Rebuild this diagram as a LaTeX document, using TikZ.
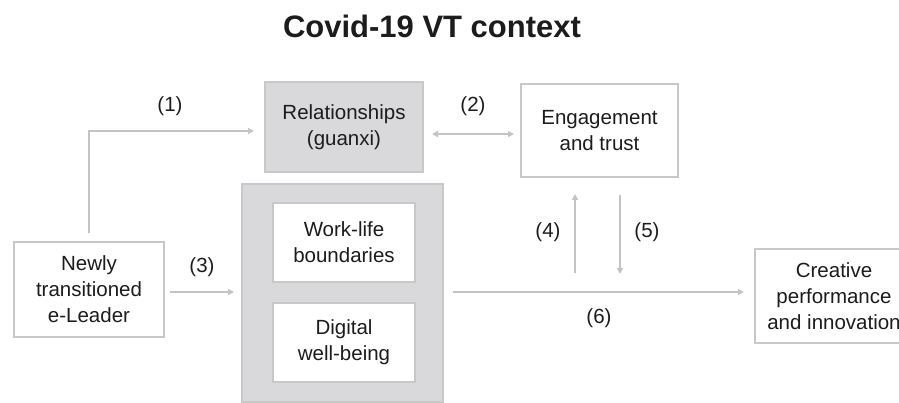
\documentclass[tikz,border=0pt]{standalone}
\usepackage{fontspec}
\setmainfont{Liberation Sans}
\usetikzlibrary{arrows.meta}
\definecolor{boxline}{HTML}{C8C8C8}
\definecolor{boxfill}{HTML}{D9D9DB}
\definecolor{arrowc}{HTML}{C4C4C4}
\definecolor{txt}{HTML}{1C1C1C}
\tikzset{
  box/.style={draw=boxline, line width=1.6pt, fill=white, align=center, text=txt,
    font=\fontsize{20.5}{26}\selectfont, inner sep=0pt},
  graybox/.style={box, fill=boxfill},
  conn/.style={draw=arrowc, line width=1.5pt, -{Triangle[length=6pt,width=6pt]}},
  lbl/.style={text=txt, font=\fontsize{20.5}{26}\selectfont, inner sep=0pt}
}
\begin{document}
\begin{tikzpicture}[x=1pt,y=-1pt]
\useasboundingbox (0,0) rectangle (899,403);
\clip (0,0) rectangle (899,403);
\fill[white] (0,0) rectangle (899,403);
\node[text=txt, font=\fontsize{31}{36}\selectfont\bfseries, inner sep=0pt] (title) at (432,26) {Covid-19 VT context};
% big grey container
\node[graybox, minimum width=201pt, minimum height=218pt, anchor=north] (big) at (342.5,183) {};
\node[graybox, minimum width=158pt, minimum height=90pt] (rel) at (344,127) {Relationships\\(guanxi)};
\node[box, minimum width=157pt, minimum height=93pt] (eng) at (599.5,130.5) {Engagement\\and trust};
\node[box, minimum width=142pt, minimum height=79pt] (wlb) at (344,242.5) {Work-life\\boundaries};
\node[box, minimum width=142pt, minimum height=79pt] (dwb) at (344,342.5) {Digital\\well-being};
\node[box, minimum width=150pt, minimum height=95pt] (lead) at (89,289.5) {Newly\\transitioned\\e-Leader};
\node[box, minimum width=158pt, minimum height=94pt] (cre) at (834,296) {Creative\\performance\\and innovation};
% connectors
\coordinate (c1s) at (89,233);
\coordinate (c1e) at (254,131);
\draw[conn] (c1s) |- (c1e);
\node[lbl] (l1) at (170,106) {(1)};
\coordinate (c2s) at (432,134);
\coordinate (c2e) at (514,134);
\draw[conn, {Triangle[length=6pt,width=6pt]}-{Triangle[length=6pt,width=6pt]}] (c2s) -- (c2e);
\node[lbl] (l2) at (473,106) {(2)};
\coordinate (c3s) at (170,292);
\coordinate (c3e) at (234,292);
\draw[conn] (c3s) -- (c3e);
\node[lbl] (l3) at (202,267) {(3)};
\coordinate (c4s) at (575,273);
\coordinate (c4e) at (575,194);
\draw[conn] (c4s) -- (c4e);
\node[lbl] (l4) at (548,232) {(4)};
\coordinate (c5s) at (620,195);
\coordinate (c5e) at (620,274);
\draw[conn] (c5s) -- (c5e);
\node[lbl] (l5) at (647,232) {(5)};
\coordinate (c6s) at (453,292);
\coordinate (c6e) at (744,292);
\draw[conn] (c6s) -- (c6e);
\node[lbl] (l6) at (599,318) {(6)};
\end{tikzpicture}
\end{document}
